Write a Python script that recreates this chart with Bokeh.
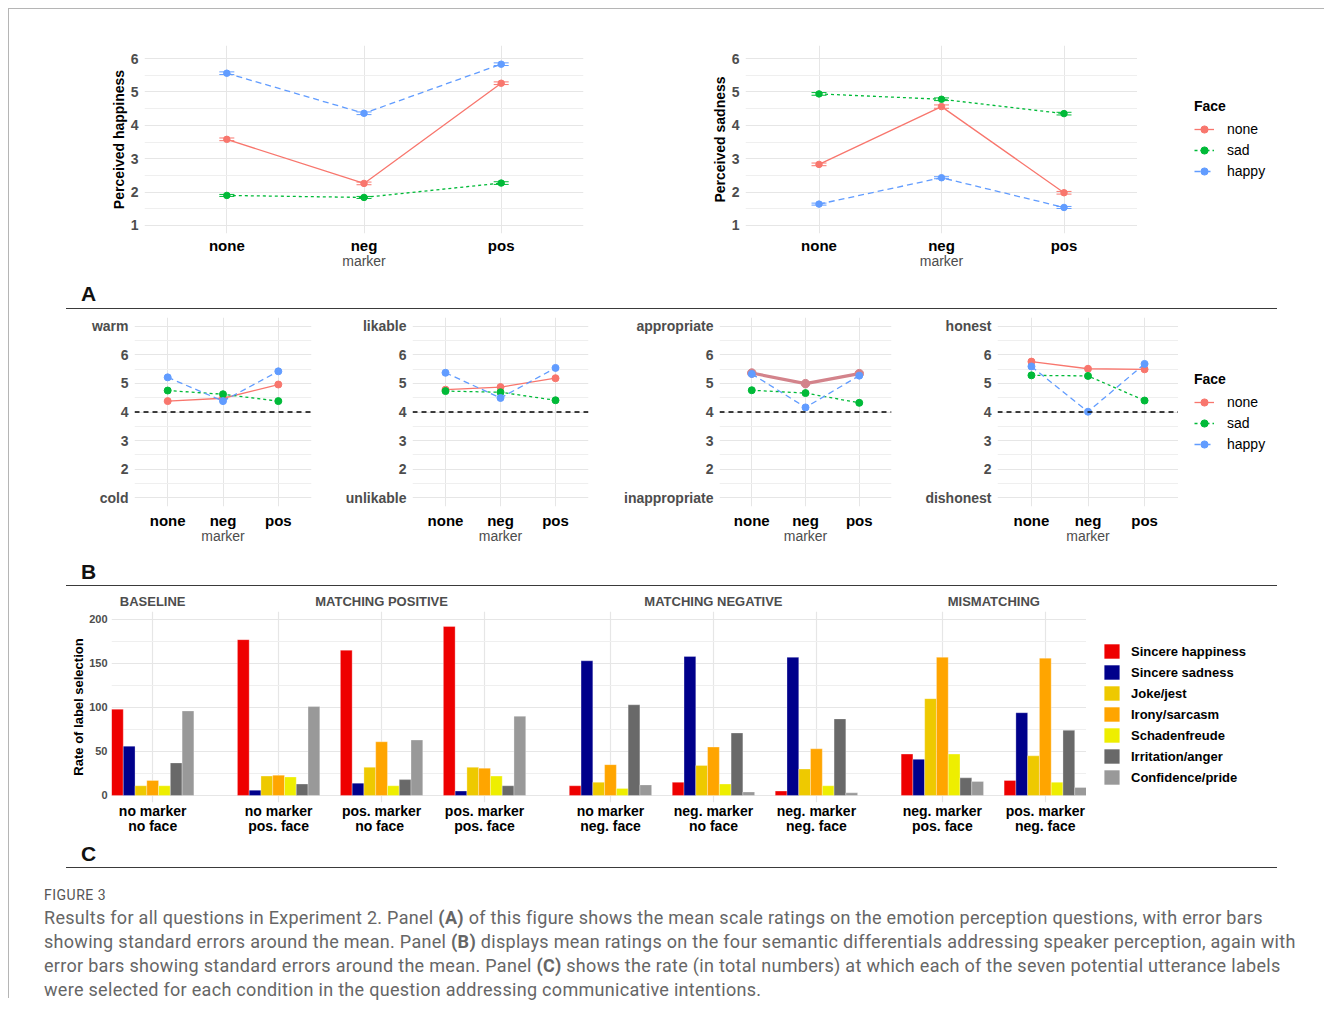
from bokeh.plotting import figure
from bokeh.models import (FactorRange, Range1d, FixedTicker, Legend, LegendItem, LinearAxis,
                          Whisker, TeeHead, Span, Div, ColumnDataSource)
from bokeh.layouts import column, row
from bokeh.embed import file_html
from bokeh.resources import INLINE

# ------------------------------------------------------------------ data
markers = ["none", "neg", "pos"]
faces = ["none", "sad", "happy"]

# Panel A: perceived happiness (mean, SE) per face, over marker
happiness_none = [3.58, 2.26, 5.26]
happiness_sad = [1.90, 1.84, 2.27]
happiness_happy = [5.56, 4.36, 5.83]
happiness_se_none = [0.04, 0.04, 0.04]
happiness_se_sad = [0.03, 0.03, 0.04]
happiness_se_happy = [0.04, 0.04, 0.04]

# Panel A: perceived sadness
sadness_none = [2.83, 4.56, 1.98]
sadness_sad = [4.94, 4.78, 4.35]
sadness_happy = [1.64, 2.43, 1.54]
sadness_se_none = [0.04, 0.05, 0.04]
sadness_se_sad = [0.04, 0.04, 0.04]
sadness_se_happy = [0.03, 0.03, 0.03]

# Panel B: semantic differentials (1..7)
warm_none = [4.38, 4.48, 4.96]
warm_sad = [4.75, 4.62, 4.38]
warm_happy = [5.21, 4.38, 5.42]
likable_none = [4.78, 4.87, 5.18]
likable_sad = [4.73, 4.69, 4.41]
likable_happy = [5.37, 4.49, 5.54]
appropriate_none = [5.36, 4.99, 5.34]
appropriate_sad = [4.76, 4.66, 4.32]
appropriate_happy = [5.33, 4.16, 5.27]
honest_none = [5.76, 5.51, 5.49]
honest_sad = [5.28, 5.26, 4.40]
honest_happy = [5.59, 4.01, 5.68]

scale_ticks = [1, 2, 3, 4, 5, 6, 7]
warm_ends = ["cold", "warm"]
likable_ends = ["unlikable", "likable"]
appropriate_ends = ["inappropriate", "appropriate"]
honest_ends = ["dishonest", "honest"]
neutral_point = 4

# Panel C: label selection counts
sections = ["BASELINE", "MATCHING POSITIVE", "MATCHING NEGATIVE", "MISMATCHING"]
conditions = ["no marker\nno face", "no marker\npos. face", "pos. marker\nno  face",
              "pos. marker\npos. face", "no marker\nneg. face", "neg. marker\nno face",
              "neg. marker\nneg. face", "neg. marker\npos. face", "pos. marker\nneg. face"]
condition_sections = ["BASELINE", "MATCHING POSITIVE", "MATCHING POSITIVE", "MATCHING POSITIVE",
                      "MATCHING NEGATIVE", "MATCHING NEGATIVE", "MATCHING NEGATIVE",
                      "MISMATCHING", "MISMATCHING"]
labels = ["Sincere happiness", "Sincere sadness", "Joke/jest", "Irony/sarcasm",
          "Schadenfreude", "Irritation/anger", "Confidence/pride"]
sincere_happiness = [98, 177, 165, 192, 11, 15, 5, 47, 17]
sincere_sadness = [56, 6, 14, 5, 153, 158, 157, 41, 94]
joke_jest = [11, 22, 32, 32, 15, 34, 30, 110, 45]
irony_sarcasm = [17, 23, 61, 31, 35, 55, 53, 157, 156]
schadenfreude = [11, 21, 11, 22, 8, 13, 11, 47, 15]
irritation_anger = [37, 13, 18, 11, 103, 71, 87, 20, 74]
confidence_pride = [96, 101, 63, 90, 12, 4, 3, 16, 9]
count_ticks = [0, 50, 100, 150, 200]
count_minor = [25, 75, 125, 175]

# ------------------------------------------------------------------ styles
FONT = "Liberation Sans"
GRID = "#e6e6e6"
MINOR = "#efefef"
GRAY = "#4d4d4d"
face_colors = ["#F8766D", "#00BA38", "#619CFF"]
face_dashes = ["solid", "3 3", "6 4"]
label_colors = ["#EE0000", "#00008B", "#EEC900", "#FFA500", "#EEEE00", "#696969", "#999999"]


def no_ticks(ax):
    ax.axis_line_color = None
    ax.major_tick_line_color = None
    ax.minor_tick_line_color = None
    ax.major_tick_out = 0
    ax.major_tick_in = 0
    ax.minor_tick_out = 0
    ax.minor_tick_in = 0


def base_fig(width, height, left, right, top, bottom, yr, x_standoff, title_standoff):
    p = figure(width=width, height=height,
               x_range=FactorRange(factors=markers, range_padding=0.1, range_padding_units="absolute"),
               y_range=Range1d(*yr), min_border_left=left, min_border_right=right,
               min_border_top=top, min_border_bottom=bottom,
               output_backend="svg", toolbar_location=None, tools="")
    p.outline_line_color = None
    p.background_fill_color = "white"
    p.xgrid.grid_line_color = GRID
    p.ygrid.grid_line_color = GRID
    p.ygrid.minor_grid_line_color = MINOR
    for ax in p.axis:
        no_ticks(ax)
    p.xaxis.major_label_text_font = FONT
    p.xaxis.major_label_text_font_size = "15px"
    p.xaxis.major_label_text_font_style = "bold"
    p.xaxis.major_label_text_color = "black"
    p.xaxis.major_label_standoff = x_standoff
    p.xaxis.axis_label = "marker"
    p.xaxis.axis_label_text_font = FONT
    p.xaxis.axis_label_text_font_size = "14px"
    p.xaxis.axis_label_text_font_style = "normal"
    p.xaxis.axis_label_text_color = GRAY
    p.xaxis.axis_label_standoff = title_standoff
    p.yaxis.major_label_text_font = FONT
    p.yaxis.major_label_text_font_size = "14px"
    p.yaxis.major_label_text_font_style = "bold"
    p.yaxis.major_label_text_color = GRAY
    p.yaxis.major_label_standoff = 6
    return p


def draw_faces(p, series, ses=None, width=1.3, size=6.5, first_style=None, visible=True):
    items = []
    for i, (face, ys, col, dash) in enumerate(zip(faces, series, face_colors, face_dashes)):
        lw, sz, c = width, size, col
        if i == 0 and first_style is not None:
            c, lw, sz = first_style
        lr = p.line(markers, ys, line_color=c, line_width=lw, line_dash=dash, visible=visible)
        sr = p.scatter(markers, ys, size=sz, color=c, visible=visible)
        if ses is not None:
            src = ColumnDataSource(dict(x=markers,
                                        upper=[y + s for y, s in zip(ys, ses[i])],
                                        lower=[y - s for y, s in zip(ys, ses[i])]))
            p.add_layout(Whisker(source=src, base="x", upper="upper", lower="lower",
                                 line_color=col, line_width=1,
                                 upper_head=TeeHead(size=15, line_color=col, line_width=1),
                                 lower_head=TeeHead(size=15, line_color=col, line_width=1)))
        items.append(LegendItem(label=face, renderers=[lr, sr]))
    return items


def legend_fig(width, height, top, bottom, left, x_range, y_range):
    p = figure(width=width, height=height, x_range=x_range, y_range=y_range,
               x_axis_type=None, y_axis_type=None, min_border_left=left, min_border_right=0,
               min_border_top=top, min_border_bottom=bottom,
               output_backend="svg", toolbar_location=None, tools="")
    p.outline_line_color = None
    return p


def face_legend_fig(series, width, height, top, bottom, left, loc, margin, yr):
    p = legend_fig(width, height, top, bottom, left, FactorRange(factors=markers), Range1d(*yr))
    items = draw_faces(p, series, width=1.3, size=6.5, visible=False)
    lg = Legend(items=items, title="Face", location=loc, orientation="vertical",
                margin=margin, padding=4, spacing=3, glyph_width=20, glyph_height=18,
                label_standoff=13, title_standoff=6, border_line_color=None,
                background_fill_alpha=0, label_text_font=FONT, label_text_font_size="14px",
                label_text_color="black", title_text_font=FONT, title_text_font_size="14px",
                title_text_font_style="bold", title_text_color="black", click_policy="none")
    p.add_layout(lg)
    return p


# ------------------------------------------------------------------ panel A
A_TOP, A_BOTTOM = 36, 46
pa1 = base_fig(632, 270, 135, 58, A_TOP, A_BOTTOM, (0.76, 6.39), 3, -4)
pa1.yaxis.ticker = FixedTicker(ticks=[1, 2, 3, 4, 5, 6], minor_ticks=[1.5, 2.5, 3.5, 4.5, 5.5])
pa1.yaxis.axis_label = "Perceived happiness"
draw_faces(pa1, [happiness_none, happiness_sad, happiness_happy],
           [happiness_se_none, happiness_se_sad, happiness_se_happy])

sadness_series = [sadness_none, sadness_sad, sadness_happy]
pa2 = base_fig(496, 270, 104, 0, A_TOP, A_BOTTOM, (0.76, 6.39), 3, -4)
pa2.yaxis.ticker = FixedTicker(ticks=[1, 2, 3, 4, 5, 6], minor_ticks=[1.5, 2.5, 3.5, 4.5, 5.5])
pa2.yaxis.axis_label = "Perceived sadness"
draw_faces(pa2, sadness_series, [sadness_se_none, sadness_se_sad, sadness_se_happy])
la = face_legend_fig(sadness_series, 187, 270, A_TOP, A_BOTTOM, 0, "center_left", 57,
                     (0.76, 6.39))

for p in (pa1, pa2):
    p.yaxis.axis_label_text_font = FONT
    p.yaxis.axis_label_text_font_size = "14px"
    p.yaxis.axis_label_text_font_style = "bold"
    p.yaxis.axis_label_text_color = "black"
    p.yaxis.axis_label_standoff = 1


# ------------------------------------------------------------------ panel B
B_TOP, B_BOTTOM = 6, 50


def b_panel(width, left, right, series, ends, first_style=None):
    p = base_fig(width, 245, left, right, B_TOP, B_BOTTOM, (0.7, 7.3), 5, -4)
    p.yaxis.ticker = FixedTicker(ticks=scale_ticks, minor_ticks=[t + 0.5 for t in scale_ticks[:-1]])
    p.yaxis.major_label_overrides = {scale_ticks[0]: ends[0], scale_ticks[-1]: ends[1]}
    p.add_layout(Span(location=neutral_point, dimension="width", line_color="black",
                      line_width=1.3, line_dash="5 4"))
    draw_faces(p, series, width=1.3, size=7, first_style=first_style)
    return p


honest_series = [honest_none, honest_sad, honest_happy]
pb1 = b_panel(312, 125, 10, [warm_none, warm_sad, warm_happy], warm_ends)
pb2 = b_panel(280, 91, 13, [likable_none, likable_sad, likable_happy], likable_ends)
pb3 = b_panel(300, 118, 10, [appropriate_none, appropriate_sad, appropriate_happy],
              appropriate_ends, first_style=("#d3838b", 3.2, 8.5))
pb4 = b_panel(277, 96, 0, honest_series, honest_ends)
lb = face_legend_fig(honest_series, 146, 245, B_TOP, B_BOTTOM, 0, "center_left", 16,
                     (0.75, 7.1))

# ------------------------------------------------------------------ panel C
SUB_GAP = 1.75   # gap between conditions of one section (in bar widths)
SEC_GAP = 3.7    # gap between sections (in bar widths)
bar_x = [[] for _ in labels]
cond_centers = []
cursor = 0.0
for i, sec in enumerate(condition_sections):
    cond_centers.append(cursor + len(labels) / 2)
    for k in range(len(labels)):
        bar_x[k].append(cursor + k + 0.5)
    cursor += len(labels)
    if i + 1 < len(condition_sections):
        cursor += SUB_GAP if condition_sections[i + 1] == sec else SEC_GAP
sec_centers = []
for s in sections:
    cs = [c for c, cs_ in zip(cond_centers, condition_sections) if cs_ == s]
    sec_centers.append(sum(cs) / len(cs))

C_TOP, C_BOTTOM = 25, 41
pc = figure(width=1077, height=257, x_range=Range1d(0, cursor), y_range=Range1d(-8, 209),
            min_border_left=102, min_border_right=0, min_border_top=C_TOP,
            min_border_bottom=C_BOTTOM,
            output_backend="svg", toolbar_location=None, tools="")
pc.outline_line_color = None
pc.ygrid.grid_line_color = GRID
pc.ygrid.minor_grid_line_color = MINOR
pc.xgrid.grid_line_color = GRID
pc.xgrid.grid_line_width = 1.2

series_c = [sincere_happiness, sincere_sadness, joke_jest, irony_sarcasm,
            schadenfreude, irritation_anger, confidence_pride]
for k, (lab, vals, col) in enumerate(zip(labels, series_c, label_colors)):
    pc.vbar(x=bar_x[k], top=vals, bottom=0, width=1.0, fill_color=col,
            line_color="white", line_alpha=0.5, line_width=0.6)

pc.yaxis.ticker = FixedTicker(ticks=count_ticks, minor_ticks=count_minor)
pc.yaxis.axis_label = "Rate of label selection"
pc.yaxis.axis_label_text_font = FONT
pc.yaxis.axis_label_text_font_size = "13px"
pc.yaxis.axis_label_text_font_style = "bold"
pc.yaxis.axis_label_text_color = "black"
pc.yaxis.axis_label_standoff = 0
pc.yaxis.major_label_text_font = FONT
pc.yaxis.major_label_text_font_size = "11px"
pc.yaxis.major_label_text_font_style = "bold"
pc.yaxis.major_label_text_color = GRAY
pc.yaxis.major_label_standoff = 4

xa = pc.xaxis[0]
xa.ticker = FixedTicker(ticks=cond_centers, minor_ticks=[])
xa.major_label_overrides = dict(zip(cond_centers, conditions))
xa.major_label_text_font = FONT
xa.major_label_text_font_size = "14px"
xa.major_label_text_font_style = "bold"
xa.major_label_text_color = "black"
xa.major_label_text_line_height = 0.95
xa.major_label_standoff = 0
pc.xgrid.ticker = xa.ticker

top_axis = LinearAxis(ticker=FixedTicker(ticks=sec_centers, minor_ticks=[]),
                      major_label_overrides=dict(zip(sec_centers, sections)),
                      major_label_text_font=FONT, major_label_text_font_size="13px",
                      major_label_text_font_style="bold", major_label_text_color=GRAY,
                      major_label_standoff=3)
pc.add_layout(top_axis, "above")
for ax in pc.axis:
    no_ticks(ax)

lcf = legend_fig(238, 257, C_TOP, C_BOTTOM, 0, Range1d(0, cursor), Range1d(-8, 209))
c_items = []
for k, (lab, vals, col) in enumerate(zip(labels, series_c, label_colors)):
    r = lcf.vbar(x=bar_x[k], top=vals, bottom=0, width=1.0, fill_color=col,
                 line_color=None, visible=False)
    c_items.append(LegendItem(label=lab, renderers=[r]))
lc = Legend(items=c_items, location="bottom_left", orientation="vertical", margin=16,
            padding=4, spacing=3, glyph_width=19, glyph_height=18, label_standoff=10,
            border_line_color=None, background_fill_alpha=0, label_text_font=FONT,
            label_text_font_size="13px", label_text_font_style="bold", label_text_color="black",
            click_policy="none")
lcf.add_layout(lc)


# ------------------------------------------------------------------ strips & caption
def strip(letter, height, letter_top, line_y):
    html = ('<div style="position:relative;width:1315px;height:%dpx;">'
            '<div style="position:absolute;left:72px;top:%dpx;font-family:\'Liberation Sans\';'
            'font-weight:bold;font-size:21px;line-height:22px;color:#111;">%s</div>'
            '<div style="position:absolute;left:57px;top:%dpx;width:1211px;height:0;'
            'border-top:1.5px solid #3a3a3a;"></div></div>') % (height, letter_top, letter, line_y)
    return Div(text=html, width=1315, height=height, margin=0)


caption_lines = [
    "Results for all questions in Experiment 2. Panel <b>(A)</b> of this figure shows the mean scale ratings on the emotion perception questions, with error bars",
    "showing standard errors around the mean. Panel <b>(B)</b> displays mean ratings on the four semantic differentials addressing speaker perception, again with",
    "error bars showing standard errors around the mean. Panel <b>(C)</b> shows the rate (in total numbers) at which each of the seven potential utterance labels",
    "were selected for each condition in the question addressing communicative intentions.",
]
caption_html = ('<div style="font-family:Roboto, sans-serif;color:#666;padding-left:35px;">'
                '<div style="font-size:14px;line-height:14px;margin-top:15px;color:#555;'
                'letter-spacing:0.5px;">FIGURE 3</div>'
                '<div style="font-size:18px;line-height:24px;margin-top:4px;white-space:nowrap;'
                'letter-spacing:0.3px;">'
                + "<br>".join(caption_lines) + '</div></div>')
caption = Div(text=caption_html, width=1315, height=125, margin=0)

layout = column(row(pa1, pa2, la),
                strip("A", 32, 4, 29),
                row(pb1, pb2, pb3, pb4, lb),
                strip("B", 30, 5, 29),
                row(pc, lcf),
                strip("C", 30, 0, 24),
                caption,
                margin=(8, 0, 0, 8),
                styles={"border-left": "1px solid #b5b5b5", "border-top": "1px solid #b5b5b5"})

open("out.html", "w").write(file_html(layout, INLINE))
